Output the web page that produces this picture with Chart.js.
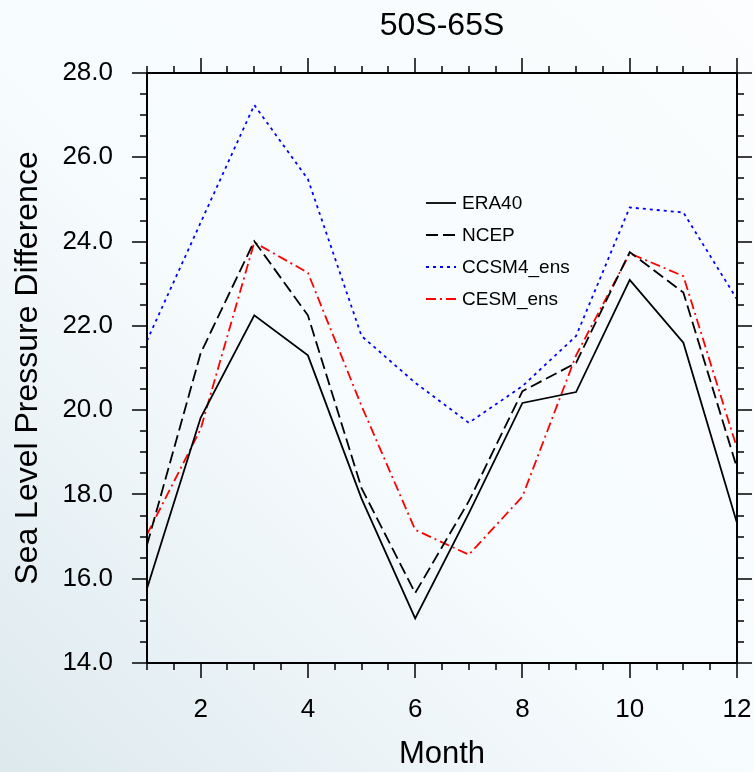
<!DOCTYPE html>
<html><head><meta charset="utf-8">
<script src="https://cdn.jsdelivr.net/npm/chart.js@4.4.1/dist/chart.umd.min.js"></script>
<style>html,body{margin:0;padding:0;background:#f4f9fb;}canvas{display:block}</style>
</head><body>
<canvas id="c" width="754" height="772"></canvas>
<script>
// ---- data ----
const months = [1,2,3,4,5,6,7,8,9,10,11,12];
const era40  = [15.77,19.82,22.25,21.30,17.90,15.06,17.55,20.17,20.43,23.09,21.60,17.32];
const ncep   = [16.80,21.35,24.01,22.25,18.15,15.66,17.84,20.45,21.12,23.75,22.79,18.63];
const ccsm4  = [21.65,24.45,27.24,25.48,21.76,20.65,19.70,20.57,21.76,24.81,24.69,22.63];
const cesm   = [17.05,19.55,23.98,23.26,20.10,17.16,16.57,17.95,21.30,23.72,23.18,19.10];
const seriesNames = ['ERA40','NCEP','CCSM4_ens','CESM_ens'];
const xTickLabels = [2,4,6,8,10,12];
const yTickLabels = [14,16,18,20,22,24,26,28];
const titleText = '50S-65S';

const FONT = "'Liberation Sans', Arial, Helvetica, sans-serif";
const toXY = arr => months.map((m,i)=>({x:m,y:arr[i]}));

const bgPlugin = {
  id:'bg',
  beforeDraw(chart){
    const {ctx,width,height} = chart;
    ctx.save();
    const g = ctx.createLinearGradient(width,0,0,height);
    g.addColorStop(0,'#fbfdfe');
    g.addColorStop(0.55,'#f6fbfd');
    g.addColorStop(1,'#dde9ee');
    ctx.fillStyle = g;
    ctx.fillRect(0,0,width,height);
    ctx.restore();
  }
};

const frame = {
  id:'frame',
  afterDatasetsDraw(chart){
    const {ctx, chartArea:a, scales:{x,y}} = chart;
    ctx.save();
    ctx.strokeStyle = '#000';
    ctx.lineWidth = 1.5;
    const seg = (x1,y1,x2,y2)=>{ctx.beginPath();ctx.moveTo(x1,y1);ctx.lineTo(x2,y2);ctx.stroke();};
    for (let v=y.min; v<=y.max+1e-9; v+=0.5){
      const p = Math.round(y.getPixelForValue(v));
      const major = yTickLabels.some(t=>Math.abs(t-v)<1e-6);
      const L = major?15:7;
      seg(a.left-L,p,a.left,p);
      seg(a.right,p,a.right+L,p);
    }
    for (let v=x.min; v<=x.max+1e-9; v+=0.5){
      const p = Math.round(x.getPixelForValue(v));
      const major = xTickLabels.some(t=>Math.abs(t-v)<1e-6);
      const L = major?15:7;
      seg(p,a.bottom,p,a.bottom+L);
      seg(p,a.top-L,p,a.top);
    }
    ctx.lineWidth = 2;
    ctx.strokeRect(a.left,a.top,a.right-a.left,a.bottom-a.top);
    ctx.restore();
  },
  afterDraw(chart){
    const {ctx, chartArea:a} = chart;
    ctx.save();
    ctx.fillStyle = '#000';
    ctx.font = '32px ' + FONT;
    ctx.textAlign = 'center';
    ctx.textBaseline = 'alphabetic';
    ctx.fillText(titleText, (a.left+a.right)/2, 34.5);
    // legend
    ctx.font = '19px ' + FONT;
    ctx.textAlign = 'left';
    ctx.textBaseline = 'middle';
    chart.data.datasets.forEach((ds,i)=>{
      const yy = 203 + i*32;
      ctx.strokeStyle = ds.borderColor;
      ctx.lineWidth = ds.borderWidth;
      ctx.setLineDash(ds.borderDash||[]);
      ctx.beginPath(); ctx.moveTo(426,yy); ctx.lineTo(456,yy); ctx.stroke();
      ctx.setLineDash([]);
      ctx.fillStyle = '#000';
      ctx.fillText(ds.label, 462, yy+1);
    });
    ctx.restore();
  }
};

new Chart(document.getElementById('c'), {
  type:'line',
  data:{
    datasets:[
      {label:seriesNames[0], data:toXY(era40), borderColor:'#000000', borderWidth:1.8, borderDash:[], pointRadius:0, tension:0, fill:false},
      {label:seriesNames[1], data:toXY(ncep), borderColor:'#000000', borderWidth:1.8, borderDash:[12,5], pointRadius:0, tension:0, fill:false},
      {label:seriesNames[2], data:toXY(ccsm4), borderColor:'#0000ff', borderWidth:1.8, borderDash:[3,4], pointRadius:0, tension:0, fill:false},
      {label:seriesNames[3], data:toXY(cesm), borderColor:'#ff0000', borderWidth:1.8, borderDash:[10,4,2,4], pointRadius:0, tension:0, fill:false}
    ]
  },
  options:{
    responsive:false,
    animation:false,
    layout:{padding:{top:73,right:17,left:0,bottom:0}},
    plugins:{legend:{display:false}, tooltip:{enabled:false}, title:{display:false}},
    scales:{
      x:{
        type:'linear', min:1, max:12,
        afterFit(s){ s.height = 109; s.paddingLeft = 0; s.paddingRight = 0; },
        grid:{display:false, drawTicks:false},
        border:{display:false},
        ticks:{stepSize:1, autoSkip:false, maxRotation:0, color:'#000', padding:31,
          font:{family:FONT,size:26},
          callback:v=> xTickLabels.includes(v) ? String(v) : ''},
        title:{display:true, text:'Month', color:'#000', font:{family:FONT,size:31,lineHeight:1.1}, padding:{top:0,bottom:0}}
      },
      y:{
        min:14, max:28,
        afterFit(s){ s.width = 147; s.paddingTop = 0; s.paddingBottom = 0; },
        grid:{display:false, drawTicks:false},
        border:{display:false},
        ticks:{stepSize:2, color:'#000', padding:34, font:{family:FONT,size:26},
          callback:v=> yTickLabels.includes(v) ? v.toFixed(1) : ''},
        title:{display:true, text:'Sea Level Pressure Difference', color:'#000', font:{family:FONT,size:32}, padding:{top:9,bottom:0}}
      }
    }
  },
  plugins:[bgPlugin, frame]
});
</script>
</body></html>
